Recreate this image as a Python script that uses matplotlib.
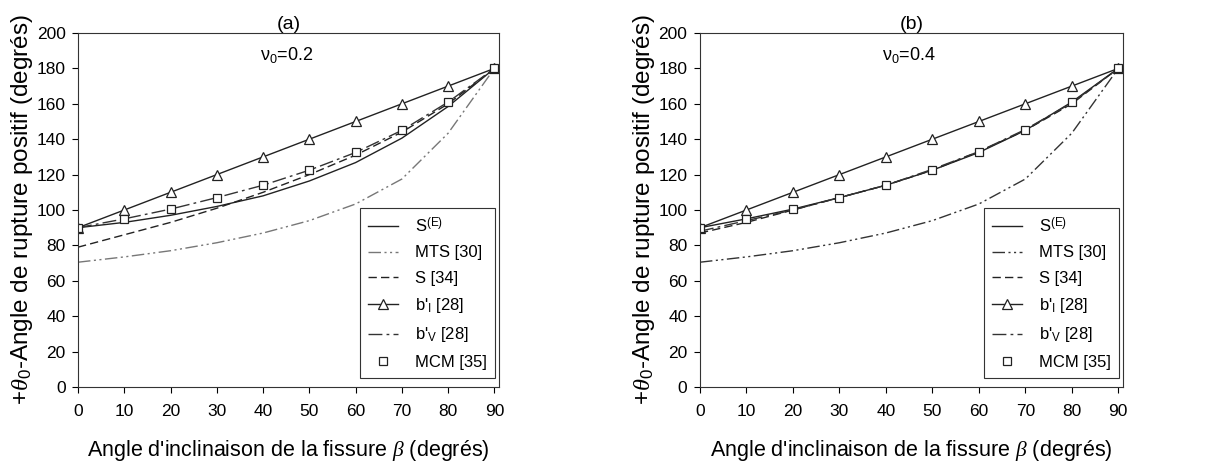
import matplotlib
matplotlib.use('Agg')
import matplotlib.pyplot as plt

plt.rcParams['font.family'] = ['Liberation Sans', 'DejaVu Sans']
plt.rcParams['mathtext.fontset'] = 'custom'
plt.rcParams['mathtext.rm'] = 'Liberation Sans'
plt.rcParams['mathtext.it'] = 'Liberation Serif:italic'

# Angle d'inclinaison beta
beta = [0, 10, 20, 30, 40, 50, 60, 70, 80, 90]

# (a) nu0 = 0.2
a_se = [90, 93, 97, 102, 108, 116.4, 126.8, 140.6, 158.5, 180]
a_mts = [70.5, 73.5, 77, 81.5, 87, 94, 103.4, 117.5, 143.4, 180]
a_s34 = [79, 86, 93, 101, 110, 120, 131, 144, 160, 180]
a_bi = [90, 100, 110, 120, 130, 140, 150, 160, 170, 180]
a_bv = [90, 95, 100.5, 107, 114, 122.5, 132.5, 145, 161, 180]
a_mcm = [90, 95, 100.5, 107, 114, 122.5, 132.5, 145, 161, 180]

# (b) nu0 = 0.4
b_se = [90, 95, 100.5, 107, 114, 122.5, 132.5, 145, 161, 180]
b_mts = [70.5, 73.5, 77, 81.5, 87, 94, 103.4, 117.5, 143.4, 180]
b_s34 = [87, 93, 100, 107, 114, 122.5, 133, 145, 160, 180]
b_bi = [90, 100, 110, 120, 130, 140, 150, 160, 170, 180]
b_bv = [88, 94, 100, 107, 114, 123, 133, 145.5, 160.5, 180]
b_mcm = [90, 95, 100.5, 107, 114, 122.5, 132.5, 145, 161, 180]

panneaux = [
    ('(a)', r'$\mathregular{\nu_0}$=0.2', '#777777', a_se, a_mts, a_s34, a_bi, a_bv, a_mcm),
    ('(b)', r'$\mathregular{\nu_0}$=0.4', '#333333', b_se, b_mts, b_s34, b_bi, b_bv, b_mcm),
]

fig = plt.figure(figsize=(12.19, 4.66), dpi=100)
positions = [[0.064, 0.1695, 0.3454, 0.7597], [0.5742, 0.1695, 0.347, 0.7597]]

for pos, (titre, nu, c_mts, se, mts, s34, bi, bv, mcm) in zip(positions, panneaux):
    ax = fig.add_axes(pos)
    ax.plot(beta, se, color='#222222', lw=1.0, label=r'S$^{\mathregular{(E)}}$')
    ax.plot(beta, mts, color=c_mts, lw=1.0, dashes=(9, 2.5, 1.5, 2.5, 1.5, 2.5),
            label='MTS [30]')
    ax.plot(beta, s34, color='#222222', lw=1.0, dashes=(6, 3), label='S [34]')
    ax.plot(beta, bi, color='#222222', lw=1.0, marker='^', ms=6.5, mfc='white',
            mec='#222222', mew=0.9, label=r"b'$_{\mathregular{I}}$ [28]")
    ax.plot(beta, bv, color='#333333', lw=1.0, dashes=(10, 3, 2, 3),
            label=r"b'$_{\mathregular{V}}$ [28]")
    ax.plot(beta, mcm, ls='none', marker='s', ms=6, mfc='white', mec='#222222',
            mew=0.9, label='MCM [35]')

    ax.set_xlim(0, 91)
    ax.set_ylim(0, 200)
    ax.set_xticks(range(0, 91, 10))
    ax.set_yticks(range(0, 201, 20))
    ax.tick_params(direction='out', labelsize=12.5, length=4, width=0.8)
    ax.tick_params(axis='x', pad=8)
    ax.tick_params(axis='y', pad=5)
    for sp in ax.spines.values():
        sp.set_linewidth(0.8)
        sp.set_color('#333333')

    ax.set_title(titre, fontsize=14, pad=1)
    ax.text(45, 187.5, nu, fontsize=13, ha='center', va='center')
    ax.set_xlabel(r"Angle d'inclinaison de la fissure $\mathit{\beta}$ (degrés)",
                  fontsize=15.5, labelpad=14)
    ax.set_ylabel(r'+$\theta_0$-Angle de rupture positif (degrés)', fontsize=17.5,
                  labelpad=1)

    leg = ax.legend(loc='lower right', bbox_to_anchor=(0.99, 0.025), fontsize=12,
                    fancybox=False, edgecolor='#333333', framealpha=1,
                    handlelength=1.8, labelspacing=0.62, borderpad=0.5,
                    handletextpad=1.0, borderaxespad=0)
    leg.get_frame().set_linewidth(0.8)

fig.savefig('out.png', dpi=100)
